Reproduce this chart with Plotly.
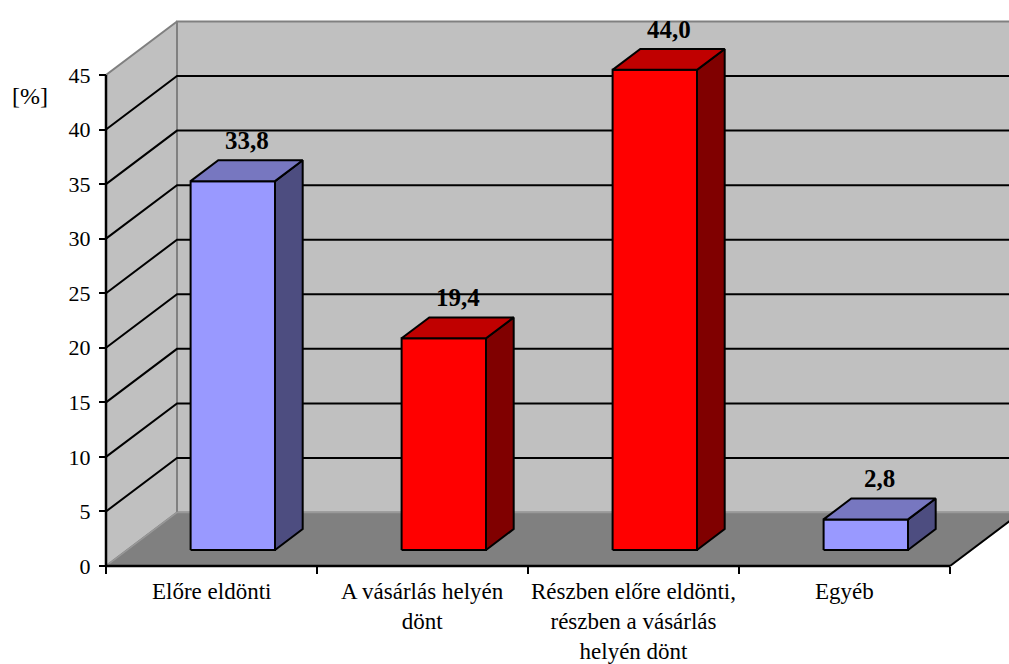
import plotly.graph_objects as go

# --- data -------------------------------------------------------------
categories = [
    "Előre eldönti",
    "A vásárlás helyén<br>dönt",
    "Részben előre eldönti,<br>részben a vásárlás<br>helyén dönt",
    "Egyéb",
]
values = [33.8, 19.4, 44.0, 2.8]
y_ticks = [0, 5, 10, 15, 20, 25, 30, 35, 40, 45]
unit_label = "[%]"

# --- styling ------------------------------------------------------------
front_colors = ["#9999FF", "#FF0000", "#FF0000", "#9999FF"]
top_colors = ["#7777C0", "#C00000", "#C00000", "#7777C0"]
side_colors = ["#4D4D80", "#800000", "#800000", "#4D4D80"]
WALL = "#C0C0C0"
FLOOR = "#808080"
EDGE = "#808080"
FONT = "Times New Roman, Liberation Serif, serif"

W, H = 1009, 664
X0_PX, Y0_PX = 106, 566          # origin of the front axes in pixels
PX_PER_CAT = 211.0
PX_PER_VAL = (566 - 75) / 45.0

# oblique depth vector of the 3-D box (in axis units)
DX = 71 / PX_PER_CAT
DY = 53.5 / PX_PER_VAL
Y_MAX = 45
N = len(categories)

# bars sit between these depth fractions, width 0.4 of a category
D0, D1 = 0.30, 0.69
BAR_W = 0.40

fig = go.Figure()


def poly(xs, ys, fill, line_color, width):
    fig.add_trace(go.Scatter(
        x=xs, y=ys, mode="lines", fill="toself", fillcolor=fill,
        line=dict(color=line_color, width=width),
        hoverinfo="skip", showlegend=False))


def seg(xs, ys, color, width):
    fig.add_trace(go.Scatter(
        x=xs, y=ys, mode="lines", line=dict(color=color, width=width),
        hoverinfo="skip", showlegend=False))


# back wall
poly([DX, N + DX, N + DX, DX, DX], [DY, DY, Y_MAX + DY, Y_MAX + DY, DY], WALL, EDGE, 2)
# left wall
poly([0, DX, DX, 0, 0], [0, DY, Y_MAX + DY, Y_MAX, 0], WALL, EDGE, 2)
# floor
poly([0, N, N + DX, DX, 0], [0, 0, DY, DY, 0], FLOOR, "#999999", 1.5)

# gridlines on the walls
for t in y_ticks[1:-1]:
    seg([0, DX, N + DX + 1], [t, t + DY, t + DY], "black", 2)

# 3-D bars
for i, (v, fc, tc, sc) in enumerate(zip(values, front_colors, top_colors, side_colors)):
    xl = i + 0.5 - BAR_W / 2 + D0 * DX
    xr = xl + BAR_W
    yb = D0 * DY
    yt = yb + v
    ddx = (D1 - D0) * DX
    ddy = (D1 - D0) * DY
    # front face
    poly([xl, xr, xr, xl, xl], [yb, yb, yt, yt, yb], fc, "black", 2)
    # side face
    poly([xr, xr + ddx, xr + ddx, xr, xr], [yb, yb + ddy, yt + ddy, yt, yb], sc, "black", 2)
    # top face
    poly([xl, xr, xr + ddx, xl + ddx, xl], [yt, yt, yt + ddy, yt + ddy, yt], tc, "black", 2)

    fig.add_annotation(
        x=(xl + xr) / 2 + ddx / 2, y=yt + ddy, xref="x", yref="y",
        text="<b>%s</b>" % f"{v:.1f}".replace(".", ","),
        showarrow=False, xanchor="center", yanchor="middle", yshift=20,
        font=dict(family=FONT, size=25, color="black"))

# axis lines and the floor's right edge
seg([0, 0], [0, Y_MAX], "black", 2.5)
seg([0, N], [0, 0], "black", 2.5)
seg([N, N + DX], [0, DY], "black", 2)

# category labels
for i, c in enumerate(categories):
    fig.add_annotation(
        x=i + 0.5, y=0, xref="x", yref="y", text=c, showarrow=False,
        xanchor="center", yanchor="top", yshift=-11, align="center",
        font=dict(family=FONT, size=23, color="black"))

fig.add_annotation(
    x=30 / W, y=1 - 96 / H, xref="paper", yref="paper", text=unit_label,
    showarrow=False, xanchor="center", yanchor="middle",
    font=dict(family=FONT, size=24, color="black"))

x_range = [-X0_PX / PX_PER_CAT, (W - X0_PX) / PX_PER_CAT]
y_range = [-(H - Y0_PX) / PX_PER_VAL, Y0_PX / PX_PER_VAL]

fig.update_layout(
    width=W, height=H,
    margin=dict(l=0, r=0, t=0, b=0),
    paper_bgcolor="white", plot_bgcolor="white",
    showlegend=False,
    xaxis=dict(
        range=x_range, anchor="free", position=(H - Y0_PX) / H,
        tickvals=list(range(N + 1)), showticklabels=False,
        ticks="outside", ticklen=7, tickwidth=2, tickcolor="black",
        showgrid=False, zeroline=False, showline=False, fixedrange=True),
    yaxis=dict(
        range=y_range, anchor="free", position=X0_PX / W,
        tickvals=y_ticks, ticktext=[str(t) for t in y_ticks],
        ticks="outside", ticklen=7, tickwidth=2, tickcolor="black",
        ticklabelstandoff=4,
        tickfont=dict(family=FONT, size=22, color="black"),
        showgrid=False, zeroline=False, showline=False, fixedrange=True),
)

fig.write_html("out.html")
